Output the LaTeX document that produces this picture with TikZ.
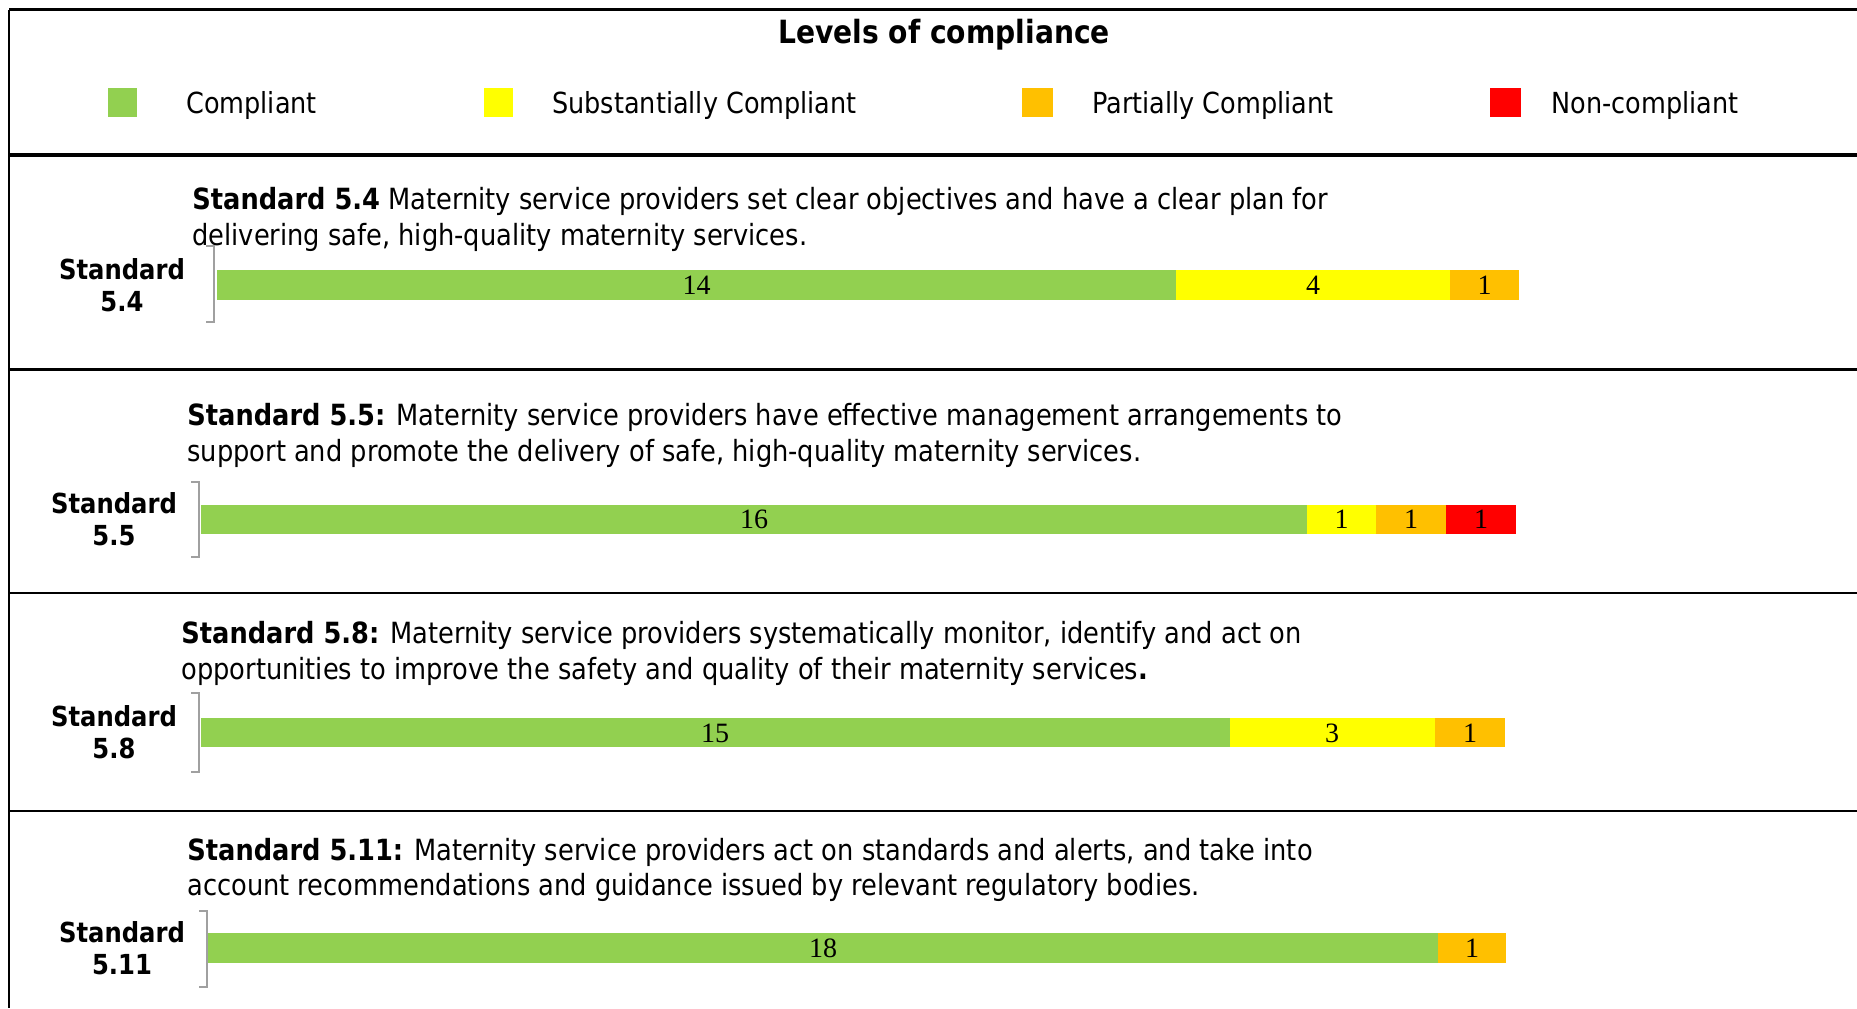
\documentclass[tikz,border=0pt]{standalone}
\usepackage{fontspec}
\setmainfont{DejaVu Sans}[FakeStretch=0.88]
\newfontfamily\numfont{Liberation Serif}
\usetikzlibrary{positioning}
\definecolor{cgreen}{HTML}{92D050}
\definecolor{cyellow}{HTML}{FFFF00}
\definecolor{corange}{HTML}{FFC000}
\definecolor{cred}{HTML}{FF0000}
\definecolor{axisgray}{HTML}{A0A0A0}
\tikzset{
  desc/.style={anchor=west,align=left,inner sep=0pt,font=\fontsize{14.6}{17.75}\selectfont},
  stdlabel/.style={align=center,inner sep=0pt,font=\fontsize{13.8}{16}\selectfont\bfseries},
  legtext/.style={anchor=west,inner sep=0pt,font=\fontsize{14.5}{17}\selectfont},
  num/.style={inner sep=0pt,font=\fontsize{14}{16}\selectfont\numfont},
  bracket/.style={draw=axisgray,line width=0.9pt}
}
\begin{document}
\begin{tikzpicture}[x=0.5pt,y=-0.5pt]
\useasboundingbox (0,0) rectangle (1857,1008);
% frame and separators
\draw[line width=1.3pt] (9,9.5) -- (1857,9.5);
\draw[line width=1.2pt] (9,9.5) -- (9,1008);
\draw[line width=2.2pt] (9,155) -- (1857,155);
\draw[line width=1.2pt] (9,369.5) -- (1857,369.5);
\draw[line width=1.2pt] (9,593) -- (1857,593);
\draw[line width=1.2pt] (9,811) -- (1857,811);
% legend
\node (t) at (944,34.5) {\fontsize{16}{19}\selectfont\bfseries Levels of compliance};
\fill[cgreen] (108,88) rectangle (137,117);
\fill[cyellow] (484,88) rectangle (513,117);
\fill[corange] (1022,88) rectangle (1053,117);
\fill[cred] (1490,88) rectangle (1521,117);
\node[legtext] (lt1) at (186,105.5) {Compliant};
\node[legtext] (lt2) at (552,105.5) {Substantially Compliant};
\node[legtext] (lt3) at (1092,105.5) {Partially Compliant};
\node[legtext] (lt4) at (1551,105.5) {Non-compliant};
% standard 5.4
\node[desc] (d1) at (192,219.5) {\textbf{Standard 5.4} Maternity service providers set clear objectives and have a clear plan for\\delivering safe, high-quality maternity services.};
\node[stdlabel] (s1) at (122,285) {Standard\\5.4};
\draw[bracket] (206,246) -- (214,246) -- (214,322) -- (206,322);
\fill[cgreen] (217,270) rectangle (1176,300);
\fill[cyellow] (1176,270) rectangle (1450,300);
\fill[corange] (1450,270) rectangle (1519,300);
\node[num] (n11) at (696.5,285.5) {14};
\node[num] (n12) at (1313,285.5) {4};
\node[num] (n13) at (1484.5,285.5) {1};
% standard 5.5
\node[desc] (d2) at (187,435.5) {\textbf{Standard 5.5:} Maternity service providers have effective management arrangements to\\support and promote the delivery of safe, high-quality maternity services.};
\node[stdlabel] (s2) at (114,519) {Standard\\5.5};
\draw[bracket] (191,482) -- (199,482) -- (199,557) -- (191,557);
\fill[cgreen] (201,504.5) rectangle (1307,534);
\fill[cyellow] (1307,504.5) rectangle (1376,534);
\fill[corange] (1376,504.5) rectangle (1446,534);
\fill[cred] (1446,504.5) rectangle (1516,534);
\node[num] (n21) at (754,519.5) {16};
\node[num] (n22) at (1341.5,519.5) {1};
\node[num] (n23) at (1411,519.5) {1};
\node[num] (n24) at (1481,519.5) {1};
% standard 5.8
\node[desc] (d3) at (181,653.5) {\textbf{Standard 5.8:} Maternity service providers systematically monitor, identify and act on\\opportunities to improve the safety and quality of their maternity services\textbf{.}};
\node[stdlabel] (s3) at (114,732) {Standard\\5.8};
\draw[bracket] (191,693) -- (199,693) -- (199,772) -- (191,772);
\fill[cgreen] (201,718) rectangle (1229.5,747);
\fill[cyellow] (1229.5,718) rectangle (1435,747);
\fill[corange] (1435,718) rectangle (1505,747);
\node[num] (n31) at (715,733) {15};
\node[num] (n32) at (1332,733) {3};
\node[num] (n33) at (1470,733) {1};
% standard 5.11
\node[desc] (d4) at (187,870) {\textbf{Standard 5.11:} Maternity service providers act on standards and alerts, and take into\\account recommendations and guidance issued by relevant regulatory bodies.};
\node[stdlabel] (s4) at (122,948) {Standard\\5.11};
\draw[bracket] (199,911) -- (207,911) -- (207,987) -- (199,987);
\fill[cgreen] (208,933) rectangle (1438,963);
\fill[corange] (1438,933) rectangle (1506,963);
\node[num] (n41) at (823,948.5) {18};
\node[num] (n42) at (1472,948.5) {1};
\end{tikzpicture}
\end{document}
